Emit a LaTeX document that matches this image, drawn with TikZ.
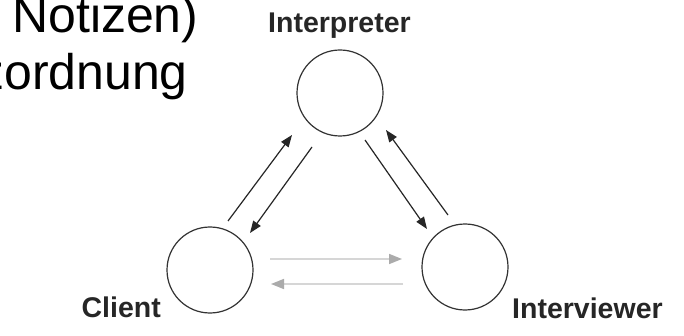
\documentclass[tikz,border=0pt]{standalone}
\usepackage{fontspec}
\setmainfont{Liberation Sans}
\usetikzlibrary{arrows.meta}
\tikzset{
  party/.style={circle, draw=black!80, line width=1.2pt, minimum size=86pt, inner sep=0pt},
  role/.style={font=\fontsize{28.5}{32}\selectfont\bfseries, text=black!85, inner sep=0pt},
  heading/.style={inner sep=0pt, text=black},
  talk/.style={draw=black!85, line width=1.2pt, -{Triangle[length=12pt,width=9pt]}},
  aside/.style={draw=black!16, line width=1.6pt, -{Triangle[length=13pt,width=10pt,color=black!33]}}
}
\begin{document}
\begin{tikzpicture}[x=1pt,y=-1pt]
  \useasboundingbox (0,0) rectangle (684,336);
  \clip (0,0) rectangle (684,336);
  \fill[white] (0,0) rectangle (684,336);

  % headline fragments
  \node[heading, anchor=base west, font=\fontsize{50}{56}\selectfont] (t1) at (12,33) {Notizen)};
  \node[heading, anchor=base east, font=\fontsize{50}{56}\selectfont] (t2) at (188,90) {Sitzordnung};

  % the three parties
  \node[party] (interp) at (340,93) {};
  \node[party] (client) at (210,270) {};
  \node[party] (inter)  at (465,267) {};

  \node[role, anchor=base] (linterp) at (339.5,33) {Interpreter};
  \node[role, anchor=base east] (lclient) at (161,317) {Client};
  \node[role, anchor=base west] (linter) at (512,318) {Interviewer};

  % arrow end points
  \coordinate (ci1) at (228,221);
  \coordinate (ci2) at (292,135);
  \coordinate (ic1) at (312,147);
  \coordinate (ic2) at (250,233);
  \coordinate (iv1) at (365,140);
  \coordinate (iv2) at (427,229);
  \coordinate (vi1) at (448,215);
  \coordinate (vi2) at (386,130);
  \coordinate (cv1) at (270,259);
  \coordinate (cv2) at (402,259);
  \coordinate (vc1) at (403,284);
  \coordinate (vc2) at (271,284);

  \draw[talk] (ci1) -- (ci2);
  \draw[talk] (ic1) -- (ic2);
  \draw[talk] (iv1) -- (iv2);
  \draw[talk] (vi1) -- (vi2);
  \draw[aside] (cv1) -- (cv2);
  \draw[aside] (vc1) -- (vc2);
\end{tikzpicture}
\end{document}
